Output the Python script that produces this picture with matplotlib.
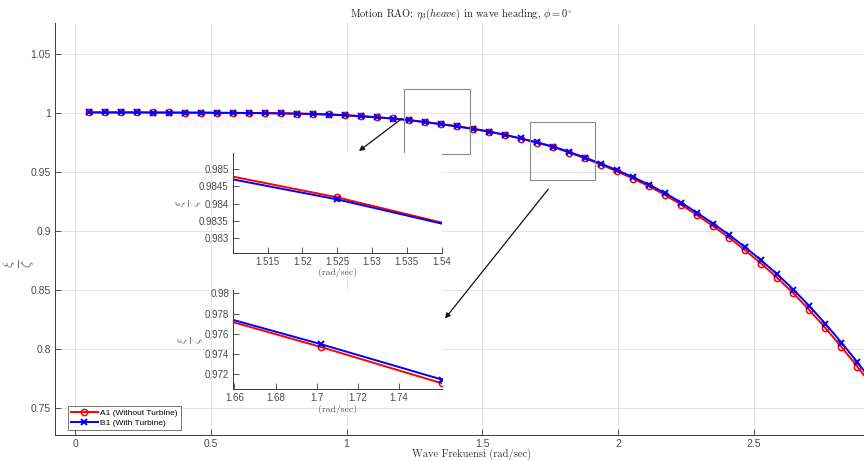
import matplotlib
matplotlib.use("Agg")
import matplotlib.pyplot as plt
from matplotlib.patches import Rectangle, FancyArrowPatch

plt.rcParams['font.family'] = ['Liberation Sans', 'DejaVu Sans']
plt.rcParams['mathtext.fontset'] = 'cm'
plt.rcParams['axes.formatter.use_mathtext'] = True

# ---- data ----
freq = [0.050, 0.109, 0.168, 0.227, 0.286, 0.345, 0.404, 0.463, 0.522, 0.581,
        0.640, 0.699, 0.758, 0.817, 0.876, 0.935, 0.994, 1.053, 1.112, 1.171,
        1.230, 1.289, 1.348, 1.407, 1.466, 1.525, 1.584, 1.643, 1.702, 1.761,
        1.820, 1.879, 1.938, 1.997, 2.056, 2.115, 2.174, 2.233, 2.292, 2.351,
        2.410, 2.469, 2.528, 2.587, 2.646, 2.705, 2.764, 2.823, 2.882, 2.941]

a1_without = [1.0004, 1.0004, 1.0004, 1.0004, 1.0003, 1.0003, 1.0002, 1.0002, 1.0001, 1.0000,
              0.9999, 0.9998, 0.9996, 0.9994, 0.9991, 0.9986, 0.9980, 0.9972, 0.9963, 0.9952,
              0.9939, 0.9922, 0.9905, 0.9886, 0.98654, 0.98418, 0.98131, 0.9781, 0.9747, 0.9711,
              0.9664, 0.9615, 0.9561, 0.9504, 0.9443, 0.9377, 0.9304, 0.9222, 0.9133, 0.9040,
              0.8942, 0.8836, 0.8723, 0.8603, 0.8473, 0.8331, 0.8179, 0.8019, 0.7851, 0.7674]

b1_with = [1.0003, 1.0003, 1.0003, 1.0003, 1.0002, 1.0002, 1.0001, 1.0001, 1.0000, 0.9999,
           0.9998, 0.9997, 0.9995, 0.9993, 0.9990, 0.9985, 0.9979, 0.9971, 0.9962, 0.9951,
           0.9938, 0.9921, 0.9904, 0.9885, 0.9864, 0.98412, 0.98137, 0.9783, 0.97498, 0.97147,
           0.9669, 0.9621, 0.9569, 0.9514, 0.9455, 0.9391, 0.9320, 0.9240, 0.9153, 0.9062,
           0.8966, 0.8862, 0.8751, 0.8633, 0.8505, 0.8365, 0.8215, 0.8056, 0.7889, 0.7713]

labels = ['A1 (Without Turbine)', 'B1 (With Turbine)']
main_xticks = [0, 0.5, 1, 1.5, 2, 2.5]
main_xticklabels = ['0', '0.5', '1', '1.5', '2', '2.5']
main_yticks = [0.75, 0.8, 0.85, 0.9, 0.95, 1.0, 1.05]
main_yticklabels = ['0.75', '0.8', '0.85', '0.9', '0.95', '1', '1.05']
in1_xticks = [1.515, 1.52, 1.525, 1.53, 1.535, 1.54]
in1_xticklabels = ['1.515', '1.52', '1.525', '1.53', '1.535', '1.54']
in1_yticks = [0.983, 0.9835, 0.984, 0.9845, 0.985]
in1_yticklabels = ['0.983', '0.9835', '0.984', '0.9845', '0.985']
in2_xticks = [1.66, 1.68, 1.7, 1.72, 1.74]
in2_xticklabels = ['1.66', '1.68', '1.7', '1.72', '1.74']
in2_yticks = [0.972, 0.974, 0.976, 0.978, 0.98]
in2_yticklabels = ['0.972', '0.974', '0.976', '0.978', '0.98']

W, H = 864, 461
fig = plt.figure(figsize=(W / 100, H / 100), dpi=100)

SPINE = '#3a3a3a'
TICKC = '#4a4a4a'
GRIDC = '#e4e4e4'
SERIF = ['cmr10', 'DejaVu Serif']
YLAB = r'$\frac{\xi}{\zeta}$'


def style_axes(ax, fs=7.5):
    for s in ['top', 'right']:
        ax.spines[s].set_visible(False)
    for s in ['left', 'bottom']:
        ax.spines[s].set_color(SPINE)
        ax.spines[s].set_linewidth(0.7)
    ax.tick_params(direction='in', length=4, width=0.6, colors=SPINE,
                   labelcolor=TICKC, labelsize=fs, pad=3)


def draw_series(ax, ms=4.5):
    ax.plot(freq, a1_without, '-o', color='red', lw=1.4, ms=ms,
            mfc='none', mec='red', mew=1.1, label=labels[0])
    ax.plot(freq, b1_with, '-x', color='blue', lw=1.4, ms=ms - 0.5,
            mew=1.4, label=labels[1])


# ---- main axes ----
ax = fig.add_axes([55 / W, 1 - 435 / H, 834.5 / W, 412 / H])
draw_series(ax)
ax.set_xlim(-0.0737, 3.0)
ax.set_ylim(0.7274, 1.076)
ax.set_xticks(main_xticks)
ax.set_xticklabels(main_xticklabels)
ax.set_yticks(main_yticks)
ax.set_yticklabels(main_yticklabels)
ax.grid(True, color=GRIDC, lw=0.7)
ax.set_axisbelow(True)
style_axes(ax, 7.5)
ax.set_xlabel('Wave Frekuensi (rad/sec)', family=SERIF, fontsize=7.5, color='#333333')
ax.xaxis.set_label_coords((472 - 55) / 834.5, -0.033)

# y labels (fraction, rotated)
fig.text(19 / W, 1 - 264 / H, YLAB, rotation=90, ha='center', va='center',
         fontsize=14.5, color='#666666')
fig.text(189 / W, 1 - 203 / H, YLAB, rotation=90, ha='center', va='center',
         fontsize=12, color='#777777')
fig.text(191 / W, 1 - 340 / H, YLAB, rotation=90, ha='center', va='center',
         fontsize=12, color='#777777')

fig.text(461.5 / W, 1 - 14 / H,
         r'Motion RAO: $\eta_3(heave)$ in wave heading, $\phi = 0^{\circ}$',
         family=SERIF, ha='center', va='center', fontsize=7.5, color='#222222')

# zoom rectangles
ax.add_patch(Rectangle((1.2129, 0.9654), 1.4549 - 1.2129, 1.0201 - 0.9654,
                       fill=False, ec='#8a8a8a', lw=0.8, zorder=5))
ax.add_patch(Rectangle((1.6759, 0.9431), 1.914 - 1.6759, 0.9926 - 0.9431,
                       fill=False, ec='#8a8a8a', lw=0.8, zorder=5))

leg = ax.legend(loc='lower left', bbox_to_anchor=(68 / W, 1 - 430 / H),
                bbox_transform=fig.transFigure, fontsize=6, frameon=True,
                fancybox=False, edgecolor='#555555', handlelength=3.2,
                handletextpad=0.3, borderpad=0.35, labelspacing=0.25,
                borderaxespad=0)
leg.get_frame().set_linewidth(0.7)

# ---- inset 1 ----
a1 = fig.add_axes([232.7 / W, 1 - 252.7 / H, 209 / W, 100 / H])
a1.set_facecolor('white')
draw_series(a1, ms=4.5)
a1.set_xlim(1.51, 1.54)
a1.set_ylim(0.98258, 0.98547)
a1.set_xticks(in1_xticks)
a1.set_xticklabels(in1_xticklabels)
a1.set_yticks(in1_yticks)
a1.set_yticklabels(in1_yticklabels)
style_axes(a1, 7)
a1.set_xlabel('(rad/sec)', family=SERIF, fontsize=7, color='#555555', labelpad=1)

# ---- inset 2 ----
a2 = fig.add_axes([233.3 / W, 1 - 389 / H, 209 / W, 99 / H])
a2.set_facecolor('white')
draw_series(a2, ms=4.5)
a2.set_xlim(1.6595, 1.761)
a2.set_ylim(0.97055, 0.98033)
a2.set_xticks(in2_xticks)
a2.set_xticklabels(in2_xticklabels)
a2.set_yticks(in2_yticks)
a2.set_yticklabels(in2_yticklabels)
style_axes(a2, 7)
a2.set_xlabel('(rad/sec)', family=SERIF, fontsize=7, color='#555555', labelpad=1)

# ---- arrows ----
for (x0, y0, x1, y1) in [(404, 117, 356.7, 152.7), (550, 187, 443.3, 320.7)]:
    fig.add_artist(FancyArrowPatch(
        (x0 / W, 1 - y0 / H), (x1 / W, 1 - y1 / H), transform=fig.transFigure,
        arrowstyle='-|>,head_length=3,head_width=1.5', color='#111111', lw=0.9))

fig.savefig('out.png', dpi=100)
